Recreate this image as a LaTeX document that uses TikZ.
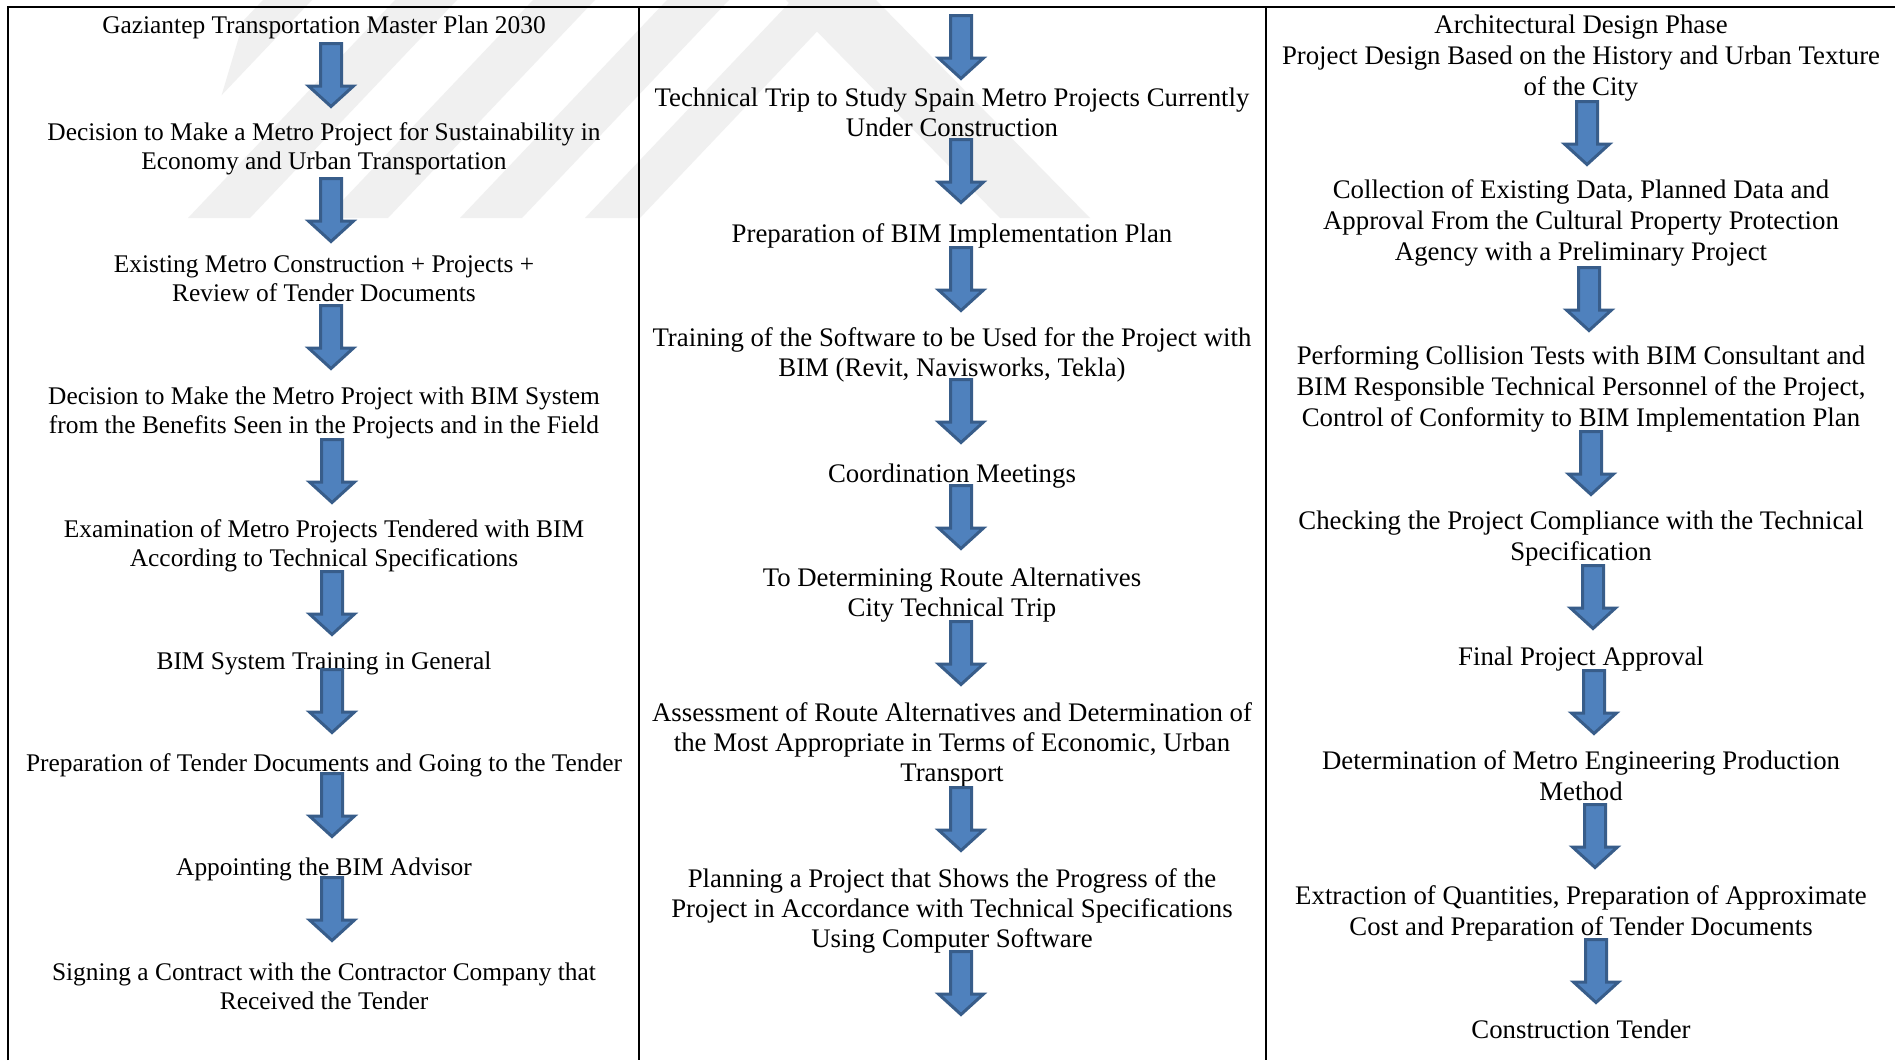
\documentclass[tikz,border=0pt]{standalone}
\usepackage{fontspec}
\setmainfont{Liberation Serif}
\definecolor{arrowfill}{HTML}{4F81BD}
\definecolor{arrowline}{HTML}{385D8A}
\definecolor{wmark}{HTML}{F0F0F0}
\begin{document}
\begin{tikzpicture}[x=0.5pt,y=-0.5pt,
  txt/.style={align=center, inner sep=0pt},
  colA/.style={txt, font=\fontsize{12.7pt}{14.5pt}\selectfont},
  colB/.style={txt, font=\fontsize{13.4pt}{15pt}\selectfont},
  colC/.style={txt, font=\fontsize{13.4pt}{15.5pt}\selectfont},
  arrowstyle/.style={draw=arrowline, fill=arrowfill, line width=1.5pt, line join=miter},
  downarrow/.pic={\draw[arrowstyle] (-10.5,-31.5) -- (10.5,-31.5) -- (10.5,11) -- (22.5,11)
     -- (0,31.5) -- (-22.5,11) -- (-10.5,11) -- cycle;},
  frameline/.style={line width=1pt, black}]
\useasboundingbox (0,0) rectangle (1895,1060);
\fill[white] (0,0) rectangle (1895,1060);
% watermark
\begin{scope}
  \clip (250,0) -- (1140,0) -- (1140,218) -- (185,218) -- cycle;
  \fill[wmark] (56,218) -- (105,218) -- (312,0) -- (263,0) -- cycle;
  \fill[wmark] (188,218) -- (250,218) -- (457,0) -- (395,0) -- cycle;
  \fill[wmark] (326,218) -- (388,218) -- (595,0) -- (533,0) -- cycle;
  \fill[wmark] (460,218) -- (522,218) -- (729,0) -- (667,0) -- cycle;
  \fill[wmark] (585,218) -- (640,218) -- (847,0) -- (792,0) -- cycle;
  \fill[wmark] (1000,218) -- (1090,218) -- (876,0) -- (786,0) -- cycle;
\end{scope}
% frame
\draw[frameline] (8,1060) -- (8,7) -- (1895,7);
\draw[frameline] (638.5,7) -- (638.5,1060);
\draw[frameline] (1266,7) -- (1266,1060);
% column 1
\node[colA] (t1) at (324,27) {Gaziantep Transportation Master Plan 2030};
\node[colA] (t2) at (324,149) {Decision to Make a Metro Project for Sustainability in\\Economy and Urban Transportation};
\node[colA] (t3) at (324,278.5) {Existing Metro Construction + Projects +\\Review of Tender Documents};
\node[colA] (t4) at (324,413) {Decision to Make the Metro Project with BIM System\\from the Benefits Seen in the Projects and in the Field};
\node[colA] (t5) at (324,546) {Examination of Metro Projects Tendered with BIM\\According to Technical Specifications};
\node[colA] (t6) at (324,663) {BIM System Training in General};
\node[colA] (t7) at (324,765) {Preparation of Tender Documents and Going to the Tender};
\node[colA] (t8) at (324,869) {Appointing the BIM Advisor};
\node[colA] (t9) at (324,986) {Signing a Contract with the Contractor Company that\\Received the Tender};
% column 2
\node[colB] (u1) at (952,112.5) {Technical Trip to Study Spain Metro Projects Currently\\Under Construction};
\node[colB] (u2) at (952,236) {Preparation of BIM Implementation Plan};
\node[colB] (u3) at (952,355) {Training of the Software to be Used for the Project with\\BIM (Revit, Navisworks, Tekla)};
\node[colB] (u4) at (952,476) {Coordination Meetings};
\node[colB] (u5) at (952,595) {To Determining Route Alternatives\\City Technical Trip};
\node[colB] (u6) at (952,745) {Assessment of Route Alternatives and Determination of\\the Most Appropriate in Terms of Economic, Urban\\Transport};
\node[colB] (u7) at (952,911) {Planning a Project that Shows the Progress of the\\Project in Accordance with Technical Specifications\\Using Computer Software};
% column 3
\node[colC] (v1) at (1581,58) {Architectural Design Phase\\Project Design Based on the History and Urban Texture\\of the City};
\node[colC] (v2) at (1581,223) {Collection of Existing Data, Planned Data and\\Approval From the Cultural Property Protection\\Agency with a Preliminary Project};
\node[colC] (v3) at (1581,389) {Performing Collision Tests with BIM Consultant and\\BIM Responsible Technical Personnel of the Project,\\Control of Conformity to BIM Implementation Plan};
\node[colC] (v4) at (1581,539) {Checking the Project Compliance with the Technical\\Specification};
\node[colC] (v5) at (1581,659) {Final Project Approval};
\node[colC] (v6) at (1581,776) {Determination of Metro Engineering Production\\Method};
\node[colC] (v7) at (1581,913) {Extraction of Quantities, Preparation of Approximate\\Cost and Preparation of Tender Documents};
\node[colC] (v8) at (1581,1029.5) {Construction Tender};
% arrows column 1
\pic (a1) at (331,75) {downarrow};
\pic (a2) at (331,210) {downarrow};
\pic (a3) at (331,337) {downarrow};
\pic (a4) at (332,471) {downarrow};
\pic (a5) at (332,603) {downarrow};
\pic (a6) at (332,701) {downarrow};
\pic (a7) at (332,805) {downarrow};
\pic (a8) at (332,909) {downarrow};
% arrows column 2
\pic (b1) at (961,47) {downarrow};
\pic (b2) at (961,171) {downarrow};
\pic (b3) at (961,279) {downarrow};
\pic (b4) at (961,411) {downarrow};
\pic (b5) at (961,517) {downarrow};
\pic (b6) at (961,653) {downarrow};
\pic (b7) at (961,819) {downarrow};
\pic (b8) at (961,983) {downarrow};
% arrows column 3
\pic (c1) at (1587,133) {downarrow};
\pic (c2) at (1589,299) {downarrow};
\pic (c3) at (1591,463) {downarrow};
\pic (c4) at (1593,597) {downarrow};
\pic (c5) at (1594,702) {downarrow};
\pic (c6) at (1595,836) {downarrow};
\pic (c7) at (1596,971) {downarrow};
\end{tikzpicture}
\end{document}
